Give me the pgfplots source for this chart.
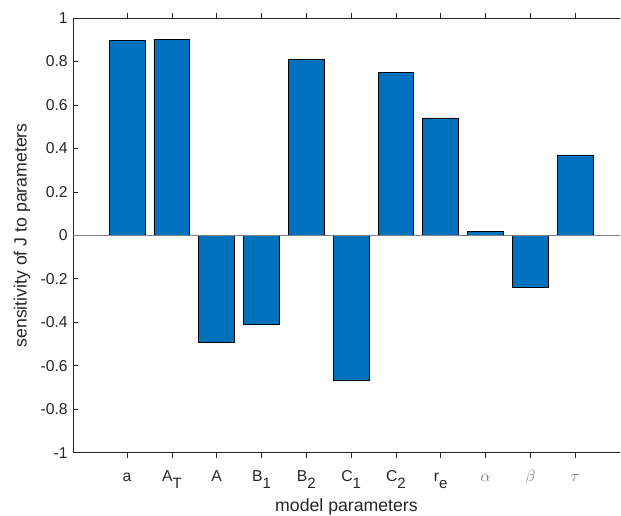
\documentclass[border=0pt]{standalone}
\usepackage{pgfplots}
\pgfplotsset{compat=1.18}
\usepackage{fontspec}
\setmainfont{Liberation Sans}
\usetikzlibrary{calc}
\definecolor{mblue}{RGB}{0,114,189}
\definecolor{mgray}{RGB}{38,38,38}
\newcommand\sub[1]{\raisebox{-4.4pt}{\fontsize{10}{10}\selectfont #1}}
\begin{document}
\begin{tikzpicture}
\begin{axis}[
  scale only axis, width=364.8pt, height=290pt,
  xmin=-0.207, xmax=12, ymin=-1, ymax=1,
  axis x line*=box, axis y line*=left,
  axis line style={mgray, line width=0.5pt},
  every tick/.style={mgray, line width=0.5pt},
  tick align=inside, major tick length=3.3pt,
  xtick={1,2,3,4,5,6,7,8,9,10,11},
  xticklabels={a, A\sub{T}, A, B\sub{1}, B\sub{2}, C\sub{1}, C\sub{2}, r\sub{e}, {\color{gray}$\alpha$}, {\color{gray}$\beta$}, {\color{gray}$\tau$}},
  ytick={-1,-0.8,-0.6,-0.4,-0.2,0,0.2,0.4,0.6,0.8,1},
  yticklabels={-1,-0.8,-0.6,-0.4,-0.2,0,0.2,0.4,0.6,0.8,1},
  ticklabel style={font=\fontsize{10.5}{12}\selectfont, text=mgray},
  xticklabel style={yshift=-5pt, anchor=north, text height=7.5pt},
  xlabel={model parameters},
  xlabel style={yshift=0pt},
  ylabel={sensitivity of J to parameters},
  ylabel style={yshift=0pt},
  label style={font=\fontsize{11.8}{13}\selectfont, text=mgray},
  ybar, bar width=0.8,
]
\addplot[fill=mblue, draw=black, line width=0.5pt] table {
x y
1 0.896
2 0.902
3 -0.491
4 -0.410
5 0.810
6 -0.669
7 0.750
8 0.540
9 0.019
10 -0.240
11 0.370
};
\draw[gray, line width=0.5pt] (axis cs:-0.207,0) -- (axis cs:12,0);
\end{axis}
\pgfresetboundingbox
\path ($(current axis.south west)+(-48.7pt,-42pt)$) rectangle ($(current axis.north east)+(0.7pt,12pt)$);
\end{tikzpicture}
\end{document}
